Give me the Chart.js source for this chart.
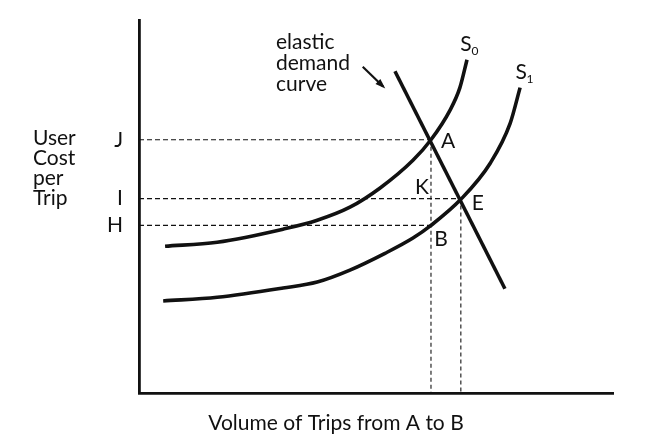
<!DOCTYPE html>
<html>
<head>
<meta charset="utf-8">
<script src="https://cdn.jsdelivr.net/npm/chart.js@4"></script>
<style>
html, body { margin: 0; padding: 0; background: #fff; }
</style>
</head>
<body>
<canvas id="myChart" width="645" height="443"></canvas>
<script>
// supply curve S0 (volume, cost)
var volumeS0 = [5.5, 16.5, 30.4, 37.6, 44.5, 50.8, 57.8, 61.6, 65.6, 67.7, 69.2];
var costS0 = [39.4, 40.5, 44.0, 46.4, 49.9, 55.0, 62.5, 68.0, 75.9, 82.0, 89.5];
// supply curve S1
var volumeS1 = [5.1, 16.5, 30.4, 37.6, 44.5, 51.9, 57.8, 61.6, 67.9, 74.1, 78.3, 80.4];
var costS1 = [24.7, 25.7, 28.2, 29.8, 33.0, 37.5, 41.6, 45.0, 52.0, 61.7, 72.4, 82.0];
// elastic demand curve
var volumeDemand = [54.0, 77.2];
var costDemand = [86.4, 28.0];
// cost levels on the y axis
var levelLabels = ['J', 'I', 'H'];
var levelValues = [68, 52.2, 45];
var levelEndVolume = [61.6, 67.9, 61.6];
// vertical guides down to the x axis
var guideVolume = [61.6, 67.9];
var guideTopCost = [68, 52.2];
// marked points
var markNames = ['A', 'K', 'E', 'B'];
var markVolume = [61.6, 61.6, 67.9, 61.6];
var markCost = [68, 52.2, 52.2, 45];
// arrow pointing to demand curve
var arrowVolume = [47.2, 51.5];
var arrowCost = [87.6, 82.3];

var ink = '#111';
var textFont = '21px Lato';

function pairs(xs, ys) {
    var out = [];
    for (var i = 0; i < xs.length; i++) {
        out.push({x: xs[i], y: ys[i]});
    }
    return out;
}

var datasets = [];
// dashed guides first so curves sit on top
for (var i = 0; i < levelValues.length; i++) {
    datasets.push({
        data: pairs([0, levelEndVolume[i]], [levelValues[i], levelValues[i]]),
        borderColor: ink, borderWidth: 1.1, borderDash: [5, 3],
        pointRadius: 0, showLine: true
    });
}
for (var i = 0; i < guideVolume.length; i++) {
    datasets.push({
        data: pairs([guideVolume[i], guideVolume[i]], [guideTopCost[i], 0]),
        borderColor: ink, borderWidth: 1.1, borderDash: [4, 3],
        pointRadius: 0, showLine: true
    });
}
datasets.push({
    data: pairs(volumeS0, costS0),
    borderColor: ink, borderWidth: 3.6, pointRadius: 0, showLine: true,
    cubicInterpolationMode: 'monotone'
});
datasets.push({
    data: pairs(volumeS1, costS1),
    borderColor: ink, borderWidth: 3.6, pointRadius: 0, showLine: true,
    cubicInterpolationMode: 'monotone'
});
datasets.push({
    data: pairs(volumeDemand, costDemand),
    borderColor: ink, borderWidth: 3.6, pointRadius: 0, showLine: true
});
datasets.push({
    data: pairs(arrowVolume, arrowCost),
    borderColor: ink, borderWidth: 2.2, pointRadius: 0, showLine: true
});

// 라벨, 화살표, 축 제목
var labelPlugin = {
    id: 'labels',
    afterDatasetsDraw: function(chart) {
        var ctx = chart.ctx;
        var xs = chart.scales.x;
        var ys = chart.scales.y;
        ctx.save();
        ctx.fillStyle = ink;
        ctx.strokeStyle = ink;
        ctx.font = textFont;

        // y axis title
        ctx.textAlign = 'left';
        ctx.textBaseline = 'alphabetic';
        var yTitle = ['User', 'Cost', 'per', 'Trip'];
        for (var i = 0; i < yTitle.length; i++) {
            ctx.fillText(yTitle[i], 33, 145 + i * 20);
        }

        // x axis title
        ctx.textAlign = 'center';
        ctx.fillText('Volume of Trips from A to B', 336, 430);

        // demand note
        ctx.textAlign = 'left';
        var note = ['elastic', 'demand', 'curve'];
        for (var i = 0; i < note.length; i++) {
            ctx.fillText(note[i], 276, 49 + i * 21);
        }

        // arrow head
        var x0 = xs.getPixelForValue(arrowVolume[0]), y0 = ys.getPixelForValue(arrowCost[0]);
        var x1 = xs.getPixelForValue(arrowVolume[1]), y1 = ys.getPixelForValue(arrowCost[1]);
        var ang = Math.atan2(y1 - y0, x1 - x0);
        ctx.beginPath();
        ctx.moveTo(x1 + 3 * Math.cos(ang), y1 + 3 * Math.sin(ang));
        ctx.lineTo(x1 - 8 * Math.cos(ang - 0.45), y1 - 8 * Math.sin(ang - 0.45));
        ctx.lineTo(x1 - 8 * Math.cos(ang + 0.45), y1 - 8 * Math.sin(ang + 0.45));
        ctx.closePath();
        ctx.fill();

        // point labels
        var offsets = {A: [17, 1], K: [-9, -11], E: [17, 5], B: [10, 14]};
        ctx.textAlign = 'center';
        ctx.textBaseline = 'middle';
        for (var i = 0; i < markNames.length; i++) {
            var px = xs.getPixelForValue(markVolume[i]);
            var py = ys.getPixelForValue(markCost[i]);
            var o = offsets[markNames[i]];
            ctx.fillText(markNames[i], px + o[0], py + o[1]);
        }

        // curve names with subscripts
        var tops = [
            [volumeS0[volumeS0.length - 1], costS0[costS0.length - 1], '0', -1, -15],
            [volumeS1[volumeS1.length - 1], costS1[costS1.length - 1], '1', 1, -15]
        ];
        for (var i = 0; i < tops.length; i++) {
            var tx = xs.getPixelForValue(tops[i][0]) + tops[i][3];
            var ty = ys.getPixelForValue(tops[i][1]) + tops[i][4];
            ctx.font = textFont;
            ctx.fillText('S', tx, ty);
            ctx.font = '12px Lato';
            ctx.fillText(tops[i][2], tx + 9, ty + 6);
        }
        ctx.restore();
    }
};

var ctx = document.getElementById('myChart').getContext('2d');
var myChart = new Chart(ctx, {
    type: 'scatter',
    data: { datasets: datasets },
    options: {
        responsive: false,
        animation: false,
        layout: { padding: { top: 20, right: 32, left: 0, bottom: 0 } },
        plugins: {
            legend: { display: false },
            tooltip: { enabled: false }
        },
        scales: {
            x: {
                type: 'linear', min: 0, max: 100,
                grid: { display: false },
                border: { display: true, color: ink, width: 2.8 },
                ticks: { display: false },
                afterFit: function(scale) { scale.height = 50; }
            },
            y: {
                type: 'linear', min: 0, max: 100,
                grid: { display: false },
                border: { display: true, color: ink, width: 2.8 },
                afterBuildTicks: function(scale) {
                    scale.ticks = levelValues.map(function(v) { return {value: v}; });
                },
                ticks: {
                    padding: 8,
                    color: ink,
                    font: { family: 'Lato', size: 21 },
                    callback: function(value, index) { return levelLabels[index]; }
                },
                afterFit: function(scale) { scale.width = 139; }
            }
        }
    },
    plugins: [labelPlugin]
});
</script>
</body>
</html>
